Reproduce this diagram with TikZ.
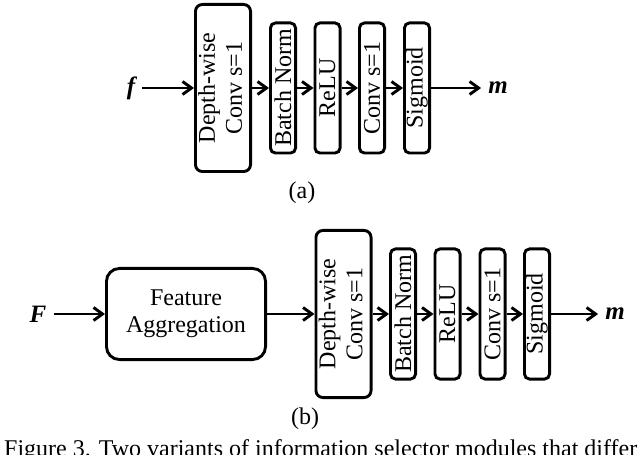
\documentclass[tikz,border=0pt]{standalone}
\usepackage{fontspec}
\setmainfont{Liberation Serif}
\usepackage{graphicx}
\usetikzlibrary{arrows.meta}
\begin{document}
\begin{tikzpicture}[x=1bp,y=-1bp,
  every node/.style={font=\fontsize{24bp}{27bp}\selectfont},
  blk/.style={draw, line width=2.9bp, rounded corners=7bp, inner sep=0pt, align=center},
  bigbox/.style={blk, minimum width=55.1bp, minimum height=167.1bp},
  smallbox/.style={blk, minimum width=25.1bp, minimum height=130.1bp, rounded corners=5bp},
  sym/.style={inner sep=7bp, font=\fontsize{25bp}{27bp}\selectfont\bfseries\itshape},
  arr/.style={line width=2.9bp, -{Straight Barb[length=9bp,width=13bp]}},
  ]
\clip (0,0) rectangle (640,455);
% ---------- (a) ----------
\node[sym] (fa) at (131,88) {f};
\node[bigbox] (dwA) at (223,88) {\rotatebox{90}{\begin{tabular}{@{}c@{}}Depth-wise\\Conv s=1\end{tabular}}};
\node[smallbox] (bnA) at (283,88) {\rotatebox{90}{Batch Norm}};
\node[smallbox] (reA) at (327.5,88) {\rotatebox{90}{ReLU}};
\node[smallbox] (cvA) at (372,88) {\rotatebox{90}{Conv s=1}};
\node[smallbox] (sgA) at (417,88) {\rotatebox{90}{Sigmoid}};
\node[sym] (ma) at (498,88) {m};
\draw[arr] (fa) -- (dwA);
\draw[arr] (dwA) -- (bnA);
\draw[arr] (bnA) -- (reA);
\draw[arr] (reA) -- (cvA);
\draw[arr] (cvA) -- (sgA);
\draw[arr] (sgA) -- (ma);
\node (la) at (302,193) {(a)};
% ---------- (b) ----------
\node[sym] (Fb) at (38,314) {F};
\node[blk, minimum width=159.1bp, minimum height=91.1bp, rounded corners=13bp] (agg) at (186,314) {Feature\\Aggregation};
\node[bigbox] (dwB) at (343.5,314) {\rotatebox{90}{\begin{tabular}{@{}c@{}}Depth-wise\\Conv s=1\end{tabular}}};
\node[smallbox] (bnB) at (403,314) {\rotatebox{90}{Batch Norm}};
\node[smallbox] (reB) at (447.5,314) {\rotatebox{90}{ReLU}};
\node[smallbox] (cvB) at (492.5,314) {\rotatebox{90}{Conv s=1}};
\node[smallbox] (sgB) at (537,314) {\rotatebox{90}{Sigmoid}};
\node[sym] (mb) at (615,314) {m};
\draw[arr] (Fb) -- (agg);
\draw[arr] (agg) -- (dwB);
\draw[arr] (dwB) -- (bnB);
\draw[arr] (bnB) -- (reB);
\draw[arr] (reB) -- (cvB);
\draw[arr] (cvB) -- (sgB);
\draw[arr] (sgB) -- (mb);
\node (lb) at (305,419) {(b)};
% ---------- caption (cut at the lower edge, as in the reference) ----------
\node[anchor=base west, inner sep=0pt] (cap) at (4,456) {Figure 3. Two variants of information selector modules that differ};
\end{tikzpicture}
\end{document}
